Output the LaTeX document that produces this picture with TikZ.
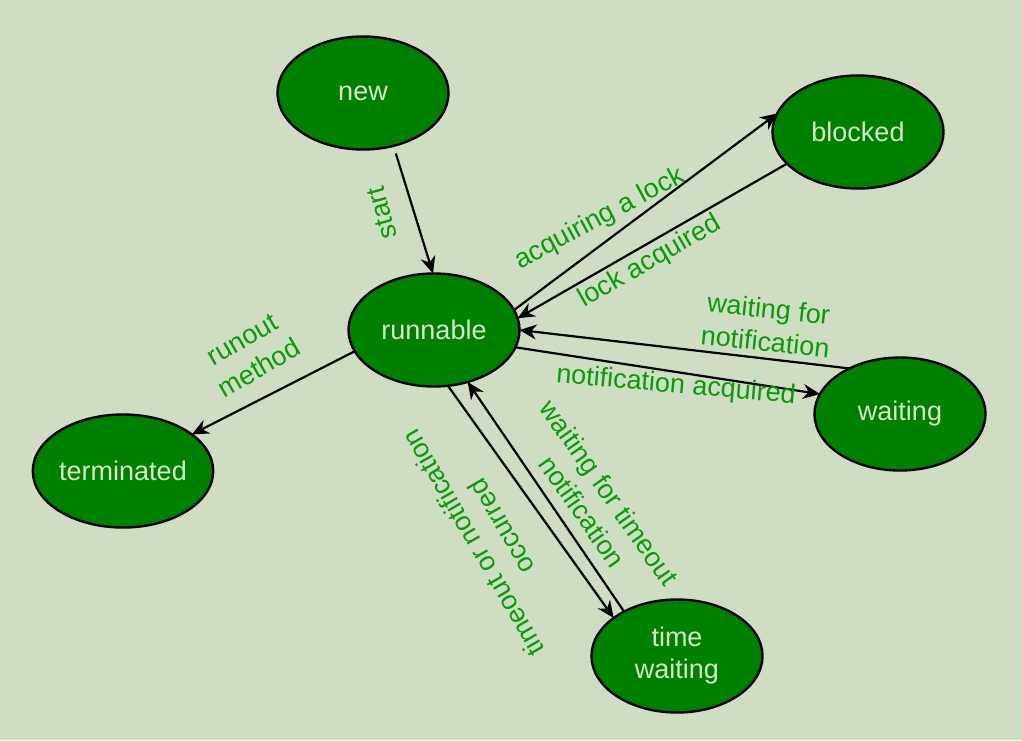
\documentclass[tikz,border=0pt]{standalone}
\usepackage{fontspec}
\setmainfont{Liberation Sans}
\usepackage{tikz}
\usetikzlibrary{arrows.meta,shapes.geometric}
\definecolor{bgc}{RGB}{207,222,195}
\definecolor{nodefill}{RGB}{0,128,0}
\definecolor{nodetxt}{RGB}{215,232,200}
\definecolor{labgreen}{RGB}{10,155,10}
\tikzset{
  sta/.style={ellipse, draw=black, line width=1.2pt, fill=nodefill, text=nodetxt,
    minimum width=85.5pt, minimum height=56.5pt, inner sep=0pt, outer sep=0pt,
    align=center, font=\fontsize{13.5}{16}\selectfont},
  trn/.style={-{Stealth[length=8.5pt,width=7.5pt]}, line width=1.1pt, black},
  lab/.style={text=labgreen, align=center, inner sep=0pt,
    font=\fontsize{13.5}{16.5}\selectfont},
}
\begin{document}
\begin{tikzpicture}[x=0.5pt,y=-0.5pt]
  \fill[bgc] (0,0) rectangle (1022,740);
  % states
  \node[sta] (new) at (363,93) {new};
  \node[sta] (run) at (434,330) {runnable};
  \node[sta] (blk) at (858,132) {blocked};
  \node[sta] (wait) at (900,414) {waiting};
  \node[sta] (term) at (123,471) {terminated};
  \node[sta] (tw) at (677,656) {time\\waiting};

  % transitions
  \draw[trn, shorten <=4pt] (new.-60) -- (run.91);
  \draw[trn] (run.14) -- (blk.167);
  \draw[trn] (blk.-156) -- (run.8);
  \draw[trn] (wait.138) -- (run.0);
  \draw[trn] (run.-12) -- (wait.166);
  \draw[trn] (run.-165) -- (term.28);
  \draw[trn] (run.-76) -- (tw.149);
  \draw[trn] (tw.140) -- (run.-57);

  % labels
  \node[lab, rotate=105] (lstart) at (382,213) {start};
  \node[lab, rotate=28] (lacq) at (600,219) {acquiring a lock};
  \node[lab, rotate=30] (llock) at (650,262) {lock acquired};
  \node[lab, rotate=-6] (lwn) at (767,325) {waiting for\\notification};
  \node[lab, rotate=-5] (lna) at (676,386) {notification acquired};
  \node[lab, rotate=30] (lrun) at (251,354) {runout\\method};
  \node[lab, rotate=-55] (lwt) at (596,502) {waiting for timeout\\notification};
  \node[lab, rotate=120] (lto) at (487,535) {timeout or notification\\occurred};
\end{tikzpicture}
\end{document}
